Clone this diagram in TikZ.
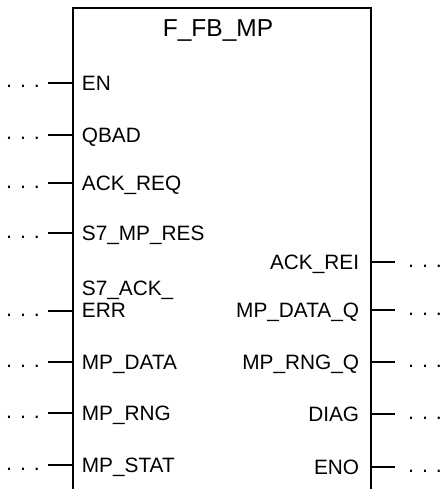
\documentclass[tikz,border=0pt]{standalone}
\usepackage{fontspec}
\setmainfont{Liberation Sans}
\begin{document}
\begin{tikzpicture}[x=1pt,y=-1pt,line width=1.8pt,
  lbl/.style={inner sep=0pt,font=\fontsize{20.8}{22.5}\selectfont},
  ttl/.style={inner sep=0pt,font=\fontsize{24.5}{28}\selectfont},
  dotsty/.style={inner sep=0pt,font=\fontsize{21.5}{24}\selectfont},
  pin/.style={line width=1.8pt}]
\useasboundingbox (0,0) rectangle (441,489);
\coordinate (bl) at (72.7,489);
\coordinate (tl) at (72.7,8);
\coordinate (tr) at (371,8);
\coordinate (br) at (371,489);
\draw (bl) -- (tl) -- (tr) -- (br);
\node[ttl,anchor=base] (title) at (218,37) {F\_FB\_MP};
% inputs
\foreach \n/\y/\t in {en/83/EN,qbad/135/QBAD,ackreq/183/ACK\_REQ,mpres/233/S7\_MP\_RES,mpdata/362/MP\_DATA,mprng/413/MP\_RNG,mpstat/465/MP\_STAT}{
  \coordinate (\n) at (72.7,\y);
  \coordinate (\n-end) at (48,\y);
  \draw[pin] (\n) -- (\n-end);
  \node[lbl,anchor=base west] (\n-lbl) at (81,\y+7.45) {\t};
  \node[dotsty,anchor=base] (\n-dots) at (23,\y+5) {. . .};
}
\coordinate (ackerr) at (72.7,311);
\coordinate (ackerr-end) at (48,311);
\draw[pin] (ackerr) -- (ackerr-end);
\node[lbl,anchor=south west,align=left] (ackerr-lbl) at (81,318.45) {S7\_ACK\_\\ERR};
\node[dotsty,anchor=base] (ackerr-dots) at (23,316) {. . .};
% outputs
\foreach \n/\y/\t in {ackrei/262/ACK\_REI,dataq/310/MP\_DATA\_Q,rngq/362/MP\_RNG\_Q,diag/414/DIAG,eno/467/ENO}{
  \coordinate (\n) at (371,\y);
  \coordinate (\n-end) at (395,\y);
  \draw[pin] (\n) -- (\n-end);
  \node[lbl,anchor=base east] (\n-lbl) at (360,\y+7.45) {\t};
  \node[dotsty,anchor=base] (\n-dots) at (425,\y+5) {. . .};
}
\end{tikzpicture}
\end{document}
